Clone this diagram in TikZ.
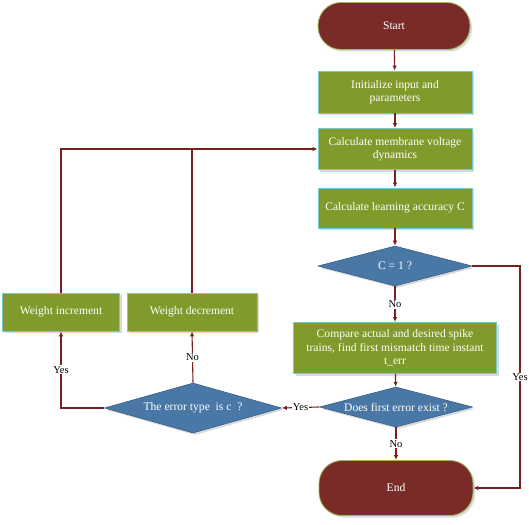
\documentclass[tikz,border=0pt]{standalone}
\usepackage{fontspec}
\setmainfont{Liberation Serif}
\usetikzlibrary{shapes.geometric,arrows.meta,shadows}

\definecolor{termfill}{HTML}{7B2B27}
\definecolor{termline}{HTML}{9BBB59}
\definecolor{procfill}{HTML}{809A2B}
\definecolor{procline}{HTML}{74CCC4}
\definecolor{decfill}{HTML}{4A78A6}
\definecolor{decline}{HTML}{355E88}
\definecolor{flow}{HTML}{7A1F1F}

\begin{document}
\begin{tikzpicture}[x=1pt,y=1pt]
		\tikzstyle{every node}+=[font=\fontsize{11.6}{13.5}\selectfont]
		\tikzstyle{term}=[draw=termline, fill=termfill, text=white, rounded corners=23pt, line width=0.8pt, drop shadow={opacity=0.3, shadow xshift=2pt, shadow yshift=-2pt}]
		\tikzstyle{proc}=[draw=procline, fill=procfill, text=white, align=center, line width=0.8pt, inner sep=2pt, drop shadow={opacity=0.3, shadow xshift=2pt, shadow yshift=-2pt}]
		\tikzstyle{dec}=[diamond, draw=decline, fill=decfill, text=white, inner sep=0pt, line width=0.6pt, drop shadow={opacity=0.3, shadow xshift=2pt, shadow yshift=-2pt}]
		\tikzstyle{flowline}=[draw=flow, line width=1.1pt, -{Latex[length=5pt,width=4.5pt]}]
		\tikzstyle{lbl}=[fill=white, text=black, inner sep=1pt, font=\fontsize{10.5}{12}\selectfont]
		\useasboundingbox (0,0) rectangle (529,-524);
		% main column
		\node [term, minimum width=152pt, minimum height=47pt] (start) at (394,-26) {Start};
		\node [proc, minimum width=154pt, minimum height=42pt] (init) at (395,-92) {Initialize input and\\parameters};
		\node [proc, minimum width=154pt, minimum height=41pt] (membrane) at (395,-149) {Calculate membrane voltage\\dynamics};
		\node [proc, minimum width=154pt, minimum height=40pt] (accuracy) at (395,-208) {Calculate learning accuracy C};
		\node [dec, aspect=3.85, minimum width=154pt, minimum height=40pt] (cone) at (395,-266) {C = 1 ?};
		\node [proc, minimum width=203pt, minimum height=51pt] (compare) at (395,-348) {Compare actual and desired spike\\trains, find first mismatch time instant\\t\_err};
		\node [dec, aspect=3.85, minimum width=153pt, minimum height=40pt] (exist) at (396,-407) {Does first error exist ?};
		\node [term, minimum width=154pt, minimum height=55pt] (end) at (396,-488) {End};
		% left branch
		\node [dec, aspect=3.55, minimum width=177pt, minimum height=50pt] (errtype) at (193,-408) {The error type\ \ is c\ \ ?};
		\node [proc, minimum width=117pt, minimum height=38pt] (winc) at (61,-312) {Weight increment};
		\node [proc, minimum width=130pt, minimum height=38pt] (wdec) at (192,-312) {Weight decrement};
		\coordinate (rside) at (520,-266);
		% connectors
		\draw [flowline] (start) -- (init);
		\draw [flowline] (init) -- (membrane);
		\draw [flowline] (membrane) -- (accuracy);
		\draw [flowline] (accuracy) -- (cone);
		\draw [flowline] (cone) -- node [lbl] {No} (compare);
		\draw [flowline] (compare) -- (exist);
		\draw [flowline] (exist) -- node [lbl] {No} (end);
		\draw [flowline] (cone.east) -- (rside) |- node [lbl, pos=0.25] {Yes} (end.east);
		\draw [flowline] (exist.west) -- node [lbl] {Yes} (errtype.east);
		\draw [flowline] (errtype.west) -| node [lbl, pos=0.75] {Yes} (winc.south);
		\draw [flowline] (errtype.north) -- node [lbl] {No} (wdec.south);
		\draw [flowline] (winc.north) |- (membrane.west);
		\draw [draw=flow, line width=1.1pt] (wdec.north) -- (wdec.north |- membrane.west);
	\end{tikzpicture}
\end{document}
